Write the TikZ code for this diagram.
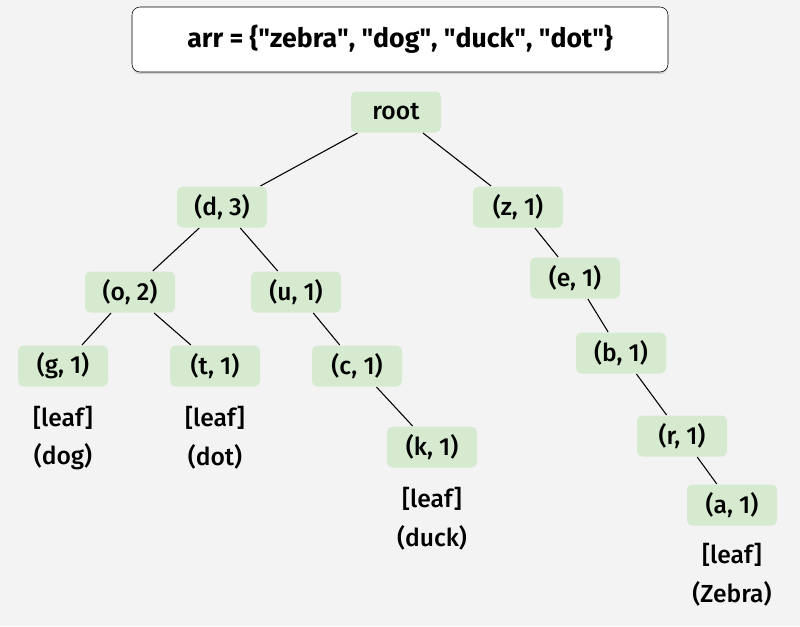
\documentclass[tikz,border=0pt]{standalone}
\usepackage{fontspec}
\setmainfont{Fira Sans}[UprightFont={* Medium},BoldFont={* Bold}]
\usetikzlibrary{shadows}
\definecolor{bgGray}{RGB}{243,243,243}
\definecolor{trieGreen}{RGB}{214,234,207}

\begin{document}
\begin{tikzpicture}[x=0.75pt,y=-0.75pt,thick,
    main node/.style={fill=trieGreen,rounded corners=4pt,inner sep=0pt,minimum width=67.5pt,minimum height=30.75pt,font=\fontsize{18.5}{21}\selectfont},
    leaf text/.style={align=center,font=\fontsize{18.5}{29}\selectfont},
    title node/.style={draw,thin,fill=white,rounded corners=6pt,minimum width=402pt,minimum height=48.75pt,font=\bfseries\fontsize{20}{24}\selectfont,drop shadow={opacity=0.3,shadow xshift=0pt,shadow yshift=-1.5pt}}]

    \fill[bgGray] (0,0) rectangle (800,626);

    \node[title node] (arr) at (400,39.5) {arr = \{\textquotedbl zebra\textquotedbl, \textquotedbl dog\textquotedbl, \textquotedbl duck\textquotedbl, \textquotedbl dot\textquotedbl\}};

    \node[main node] (root) at (396,112) {root};
    \node[main node] (d) at (222,207) {(d, 3)};
    \node[main node] (z) at (518,207) {(z, 1)};
    \node[main node] (o) at (130,292) {(o, 2)};
    \node[main node] (u) at (296,292) {(u, 1)};
    \node[main node] (g) at (63,366) {(g, 1)};
    \node[main node] (t) at (215,366) {(t, 1)};
    \node[main node] (c) at (357,366) {(c, 1)};
    \node[main node] (k) at (432,447) {(k, 1)};
    \node[main node] (e) at (575,278) {(e, 1)};
    \node[main node] (b) at (621,353) {(b, 1)};
    \node[main node] (r) at (682,436) {(r, 1)};
    \node[main node] (a) at (732,505) {(a, 1)};

    \node[leaf text] (gleaf) at (63,438) {[leaf]\\(dog)};
    \node[leaf text] (tleaf) at (215,438) {[leaf]\\(dot)};
    \node[leaf text] (kleaf) at (432,519) {[leaf]\\(duck)};
    \node[leaf text] (aleaf) at (732,575) {[leaf]\\(Zebra)};

    \path
        (root) edge (d)
        (root) edge (z)
        (d) edge (o)
        (d) edge (u)
        (o) edge (g)
        (o) edge (t)
        (u) edge (c)
        (c) edge (k)
        (z) edge (e)
        (e) edge (b)
        (b) edge (r)
        (r) edge (a)
    ;
\end{tikzpicture}
\end{document}
